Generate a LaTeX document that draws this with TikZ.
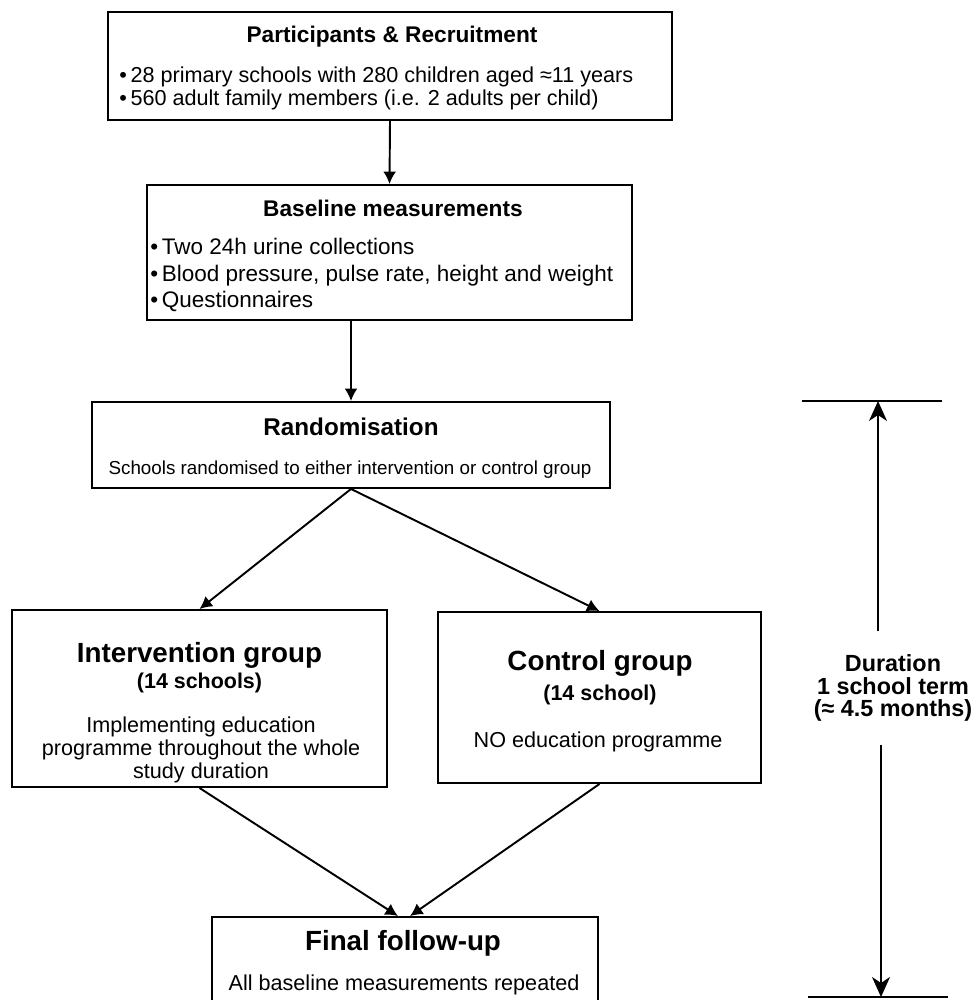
\documentclass[tikz,border=0pt]{standalone}
\usepackage{fontspec}
\setmainfont{Liberation Sans}
\usetikzlibrary{arrows.meta}

\begin{document}
\begin{tikzpicture}[x=0.02cm,y=-0.02cm,
  box/.style={draw, line width=1.1pt, inner sep=0pt},
  flow/.style={->, >={Latex[length=0.25cm,width=0.26cm]}, line width=1.1pt},
  span/.style={->, >={Stealth[length=0.40cm,width=0.36cm,inset=0.12cm]}, line width=1.1pt},
  hdr/.style={font=\fontsize{12.9}{15}\selectfont\bfseries, inner sep=0pt},
  big/.style={font=\fontsize{15.8}{18}\selectfont\bfseries, inner sep=0pt},
  txt/.style={font=\fontsize{12.3}{13.1}\selectfont, inner sep=0pt}]

\useasboundingbox (0,0) rectangle (975,1000);
\clip (0,0) rectangle (975,1000);


\node[box, minimum width=11.28cm, minimum height=2.16cm] (rec) at (390,66) {};
\node[box, minimum width=9.70cm, minimum height=2.70cm] (base) at (389.5,252.5) {};
\node[box, minimum width=10.36cm, minimum height=1.72cm] (rand) at (351,445) {};
\node[box, minimum width=7.50cm, minimum height=3.54cm] (int) at (199.5,698.5) {};
\node[box, minimum width=6.46cm, minimum height=3.42cm] (ctrl) at (599.5,697.5) {};
\node[box, minimum width=7.72cm, minimum height=3.00cm] (fin) at (405,992) {};



\node[hdr] (recT) at (392,37) {Participants \& Recruitment};
\node[txt, align=left, anchor=west] (recL) at (119,88.5) {•\,28 primary schools with 280 children aged ≈11 years\\•\,560 adult family members (i.e. 2 adults per child)};

\node[hdr] (baseT) at (393,208) {Baseline measurements};
\node[txt, font=\fontsize{12.8}{15.2}\selectfont, align=left, anchor=west] (baseL) at (150,275) {•\,Two 24h urine collections\\•\,Blood pressure, pulse rate, height and weight\\•\,Questionnaires};

\node[hdr, font=\fontsize{13.8}{16}\selectfont\bfseries] (randT) at (351,427) {Randomisation};
\node[txt, font=\fontsize{10.7}{12}\selectfont] (randL) at (350,470) {Schools randomised to either intervention or control group};

\node[big] (intT) at (199.5,655) {Intervention group};
\node[hdr, font=\fontsize{12.2}{14}\selectfont\bfseries] (intN) at (199.5,683) {(14 schools)};
\node[txt, align=center] (intL) at (201,750) {Implementing education\\programme throughout the whole\\study duration};

\node[big] (ctrlT) at (600,663) {Control group};
\node[hdr, font=\fontsize{12.2}{14}\selectfont\bfseries] (ctrlN) at (600,695) {(14 school)};
\node[txt] (ctrlL) at (598,742) {NO education programme};

\node[big] (finT) at (403,943) {Final follow-up};
\node[txt] (finL) at (404,985) {All baseline measurements repeated};



\draw[flow] (rec.south) -- (base.north);
\draw[flow] (base.south -| rand.north) -- (rand.north);
\draw[flow] (rand.south) -- (int.north);
\draw[flow] (rand.south) -- (ctrl.north);
\draw[flow] (int.south) -- ([xshift=-0.14cm]fin.north);
\draw[flow] (ctrl.south) -- ([xshift=0.10cm]fin.north);



% duration of the study
\coordinate (durtop) at (878,401);
\coordinate (durbot) at (881,997);
\node[font=\fontsize{13.3}{12.8}\selectfont\bfseries, align=center, inner xsep=0pt, inner ysep=0.46cm] (dur) at (893,688) {Duration\\1 school term\\(≈ 4.5 months)};

\draw[line width=1.1pt] ([xshift=-1.52cm]durtop) -- ([xshift=1.28cm]durtop);
\draw[line width=1.1pt] ([xshift=-1.46cm]durbot) -- ([xshift=1.34cm]durbot);
\draw[span] (dur.north -| durtop) -- (durtop);
\draw[span] (dur.south -| durbot) -- (durbot);

\end{tikzpicture}
\end{document}
